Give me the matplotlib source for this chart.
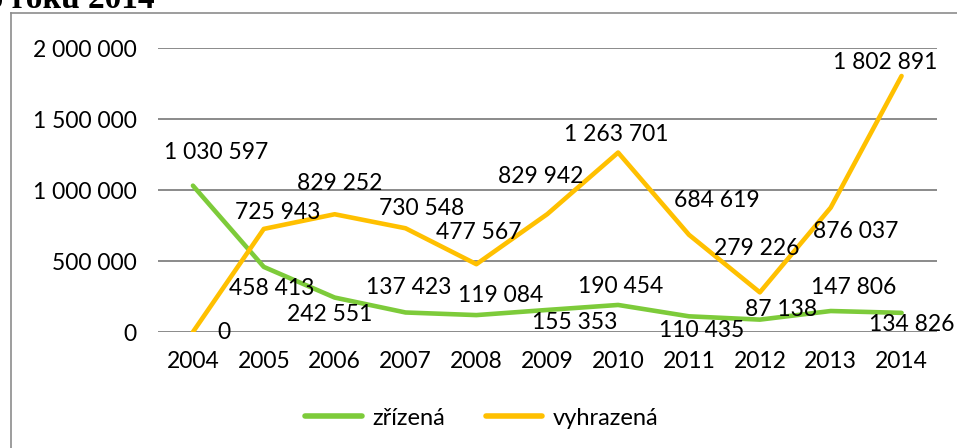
import matplotlib.pyplot as plt
from matplotlib.lines import Line2D
from matplotlib.ticker import FuncFormatter

years = ['2004', '2005', '2006', '2007', '2008', '2009', '2010', '2011', '2012', '2013', '2014']
zrizena = [1030597, 458413, 242551, 137423, 119084, 155353, 190454, 110435, 87138, 147806, 134826]
vyhrazena = [0, 725943, 829252, 730548, 477567, 829942, 1263701, 684619, 279226, 876037, 1802891]

# label offsets in pixels (dx, dy), dy measured upwards
off_z = [(23, 33), (8, -22), (-5, -17), (3, 25), (24, 20), (27, -13),
         (3, 18), (13, -14), (21, 10), (23, 24), (10, -12)]
off_v = [(31, 0), (14, 16), (5, 31), (16, 20), (2, 32), (-7, 38),
         (-2, 18), (28, 34), (-3, 44), (25, -24), (-16, 13)]

GREEN = '#7DCB3A'
YELLOW = '#FFC000'
FS = 16.5
plt.rcParams['font.family'] = ['Lato', 'DejaVu Sans']


def fmt(v):
    return f'{int(v):,}'.replace(',', ' ')


W, H = 957, 448
fig = plt.figure(figsize=(W / 100, H / 100), dpi=100)
ax = fig.add_axes([157.5 / W, 1 - 332 / H, (937 - 157.5) / W, (332 - 48) / H])

x = list(range(len(years)))
ax.plot(x, zrizena, color=GREEN, lw=3.3, label='zřízená', solid_capstyle='round')
ax.plot(x, vyhrazena, color=YELLOW, lw=3.3, label='vyhrazená', solid_capstyle='round')

for i in x:
    ax.annotate(fmt(zrizena[i]), (i, zrizena[i]), xytext=off_z[i], textcoords='offset pixels',
                ha='center', va='center', fontsize=FS, color='black')
    ax.annotate(fmt(vyhrazena[i]), (i, vyhrazena[i]), xytext=off_v[i], textcoords='offset pixels',
                ha='center', va='center', fontsize=FS, color='black')

ax.set_xlim(-0.5, len(years) - 0.5)
ax.set_ylim(0, 2000000)
ax.set_yticks([0, 500000, 1000000, 1500000, 2000000])
ax.yaxis.set_major_formatter(FuncFormatter(lambda v, p: fmt(v)))
ax.set_xticks(x)
ax.set_xticklabels(years)
ax.tick_params(axis='both', length=0, labelsize=FS)
ax.tick_params(axis='y', pad=15)
ax.tick_params(axis='x', pad=13.5)
ax.grid(axis='y', color='#8a8a8a', lw=1.4)
ax.set_axisbelow(True)
for s in ax.spines.values():
    s.set_visible(False)

leg = fig.legend(loc='center', bbox_to_anchor=(482 / W, 1 - 418 / H), ncol=2, frameon=False,
                 fontsize=17, handlelength=2.4, handletextpad=0.45, columnspacing=1.7)
for h in leg.get_lines():
    h.set_linewidth(4)
    h.set_solid_capstyle('round')

# frame of the embedded chart, cut off on the right and bottom
fig.add_artist(Line2D([11 / W, 11 / W], [0, 1 - 13 / H], color='#8c8c8c', lw=1.2))
fig.add_artist(Line2D([11 / W, 1], [1 - 13 / H, 1 - 13 / H], color='#8c8c8c', lw=1.2))

# heading of the document, only its lower part is visible
fig.text(155 / W, 1 - 8 / H, 'do roku 2014', ha='right', va='baseline', fontsize=24,
         fontweight='bold', family='Liberation Serif')

fig.savefig('out.png', dpi=100)
